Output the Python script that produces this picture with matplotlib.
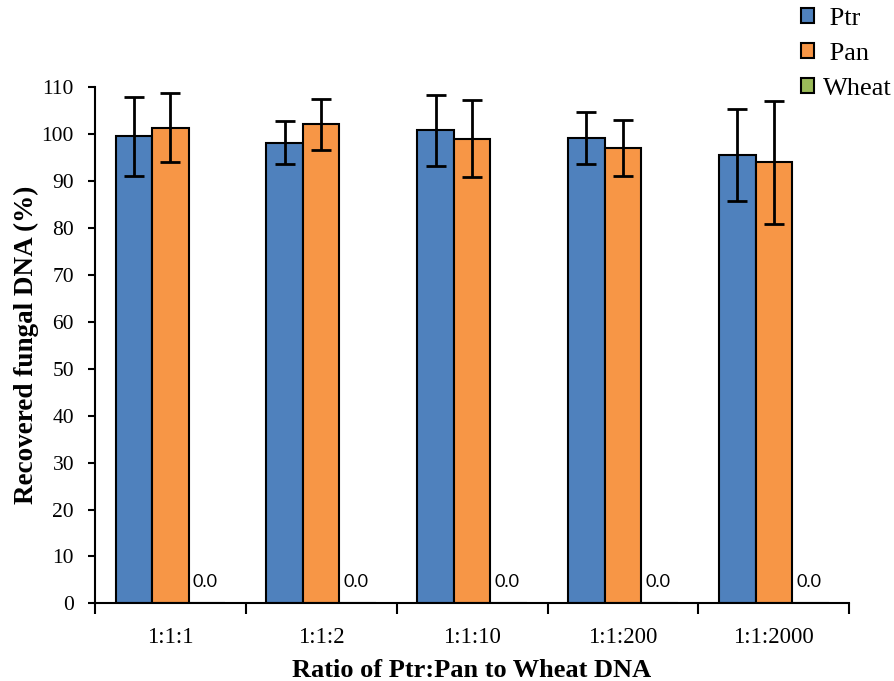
import matplotlib
matplotlib.use("Agg")
import matplotlib.pyplot as plt
import numpy as np

plt.rcParams['font.family'] = ['Liberation Serif', 'DejaVu Serif']

categories = ["1:1:1", "1:1:2", "1:1:10", "1:1:200", "1:1:2000"]
ptr_values = [99.5, 98.2, 100.8, 99.2, 95.6]
ptr_errors = [8.4, 4.5, 7.6, 5.6, 9.8]
pan_values = [101.4, 102.1, 99.0, 97.1, 94.0]
pan_errors = [7.3, 5.4, 8.2, 6.0, 13.1]
wheat_values = [0.0, 0.0, 0.0, 0.0, 0.0]

ptr_color = "#4f81bd"
pan_color = "#f79646"
wheat_color = "#9bbb59"

fig = plt.figure(figsize=(8.95, 6.81), dpi=100)
ax = fig.add_axes([0.106, 0.114, 0.843, 0.758])

x = np.arange(len(categories))
w = 0.242
err_kw = dict(ecolor="black", elinewidth=2, capsize=7, capthick=2)
ax.bar(x - w, ptr_values, w, yerr=ptr_errors, color=ptr_color,
       edgecolor="black", linewidth=1.5, error_kw=err_kw, label=" Ptr", zorder=2)
ax.bar(x, pan_values, w, yerr=pan_errors, color=pan_color,
       edgecolor="black", linewidth=1.5, error_kw=err_kw, label=" Pan", zorder=2)
ax.bar(x + w, wheat_values, w, color=wheat_color,
       edgecolor="black", linewidth=1.5, label="Wheat", zorder=2)
for xi, v in zip(x, wheat_values):
    ax.annotate(f"{v:.1f}", (xi + w, v), xytext=(-1, 11.5), textcoords="offset points",
                ha="center", va="baseline", fontsize=13, family=["Lato", "DejaVu Sans"])

ax.set_xlim(-0.5, len(categories) - 0.5)
ax.set_ylim(0, 110)
ax.set_yticks(np.arange(0, 111, 10))
ax.set_xticks(np.arange(-0.5, len(categories), 1.0))
ax.set_xticklabels([])
ax.set_xticks(x, minor=True)
ax.set_xticklabels(categories, minor=True)
ax.tick_params(axis="x", which="minor", length=0, pad=17, labelsize=16.5)
ax.tick_params(axis="x", which="major", length=8, width=1.5, direction="out")
ax.tick_params(axis="y", length=5, width=1.5, direction="out", labelsize=15.5, pad=10)

for s in ["top", "right"]:
    ax.spines[s].set_visible(False)
for s in ["left", "bottom"]:
    ax.spines[s].set_linewidth(1.5)

ax.set_ylabel("Recovered fungal DNA (%)", fontsize=19.5, fontweight="bold", labelpad=2)
ax.set_xlabel("Ratio of Ptr:Pan to Wheat DNA", fontsize=19, fontweight="bold", labelpad=8)

leg = fig.legend(loc="upper right", bbox_to_anchor=(1.014, 1.012), frameon=False,
                 fontsize=19, handlelength=0.5, handleheight=0.5,
                 handletextpad=0.35, labelspacing=0.5, borderaxespad=0.2)
for h in leg.legend_handles:
    h.set_linewidth(1.5)

fig.savefig("out.png", dpi=100)
